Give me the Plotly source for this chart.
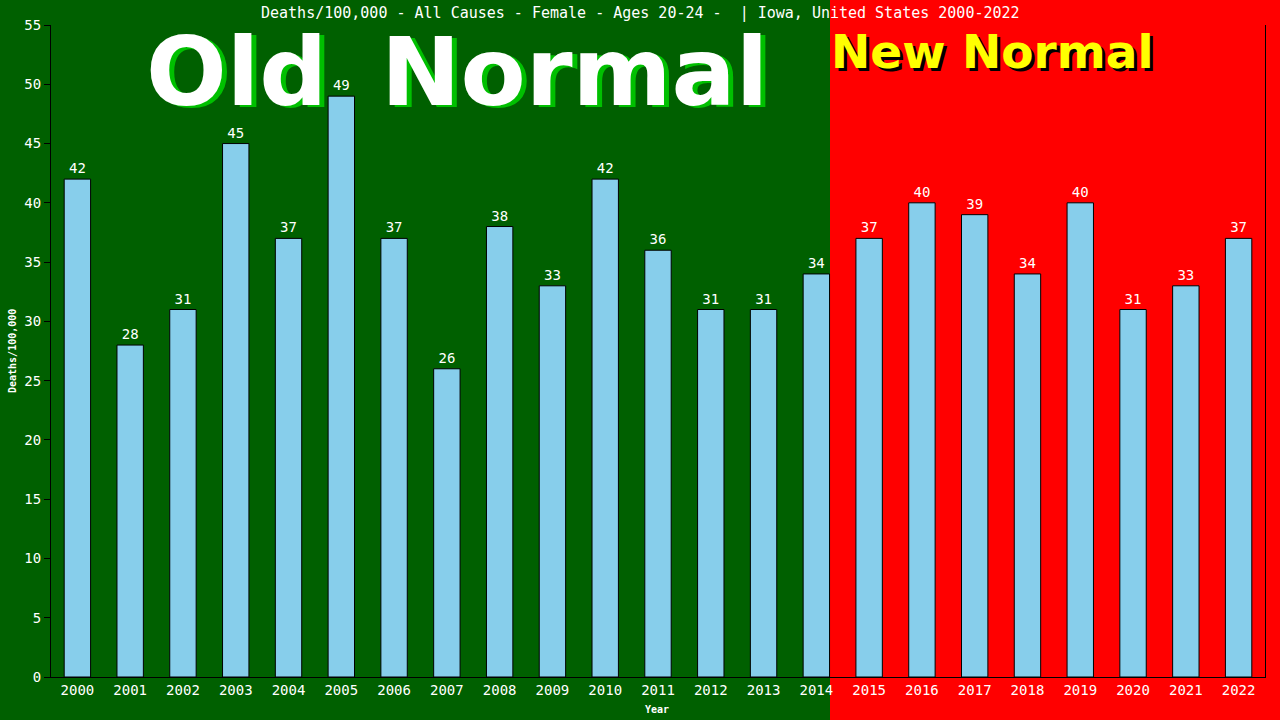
import plotly.graph_objects as go

years = [str(y) for y in range(2000, 2023)]
values = [42, 28, 31, 45, 37, 49, 37, 26, 38, 33, 42, 36, 31, 31, 34, 37, 40, 39, 34, 40, 31, 33, 37]
y_ticks = list(range(0, 56, 5))

title_text = "Deaths/100,000 - All Causes - Female - Ages 20-24 -  | Iowa, United States 2000-2022"

GREEN = "#006000"
RED = "#ff0000"
MONO = "DejaVu Sans Mono"

L, R, T, B = 51, 15, 25, 43
W, H = 1280, 720
pw, ph = W - L - R, H - T - B

def px(x):
    return (x - L) / pw

def py(y):
    return (H - B - y) / ph

x_idx = list(range(len(years)))

fig = go.Figure()
fig.add_trace(go.Bar(
    x=x_idx, y=values, width=0.5,
    marker=dict(color="#87CEEB", line=dict(color="black", width=1)),
    text=[str(v) for v in values], textposition="outside",
    textfont=dict(color="white", family=MONO, size=14),
    cliponaxis=False,
))

shapes = [
    dict(type="rect", xref="paper", yref="paper", x0=px(830), x1=px(1300),
         y0=py(740), y1=py(-20), fillcolor=RED, line=dict(width=0), layer="below"),
]

def big(text, cx, cy, size, color, shadow, dx, dy):
    return [
        dict(text=f"<b>{text}</b>", xref="paper", yref="paper", x=px(cx), y=py(cy),
             xanchor="center", yanchor="middle", showarrow=False, xshift=dx, yshift=dy,
             font=dict(family="DejaVu Sans", size=size, color=shadow)),
        dict(text=f"<b>{text}</b>", xref="paper", yref="paper", x=px(cx), y=py(cy),
             xanchor="center", yanchor="middle", showarrow=False,
             font=dict(family="DejaVu Sans", size=size, color=color)),
    ]

annotations = [
    dict(text=title_text, xref="paper", yref="paper", x=px(640), y=py(13),
         xanchor="center", yanchor="middle", showarrow=False,
         font=dict(family=MONO, size=15, color="white")),
]
annotations += big("Old", 236, 72, 95, "white", "#00c000", 5, -2)
annotations += big("Normal", 574, 72, 95, "white", "#00c000", 5, -2)
annotations += big("New Normal", 992, 52, 47, "yellow", "black", 3, -3)
annotations += [
    dict(text="<b>Deaths/100,000</b>", xref="paper", yref="paper", x=px(12), y=py(351),
         xanchor="center", yanchor="middle", showarrow=False, textangle=-90,
         font=dict(family=MONO, size=10, color="white")),
    dict(text="<b>Year</b>", xref="paper", yref="paper", x=px(657), y=py(709),
         xanchor="center", yanchor="middle", showarrow=False,
         font=dict(family=MONO, size=10, color="white")),
]

fig.update_layout(
    width=W, height=H,
    margin=dict(l=L, r=R, t=T, b=B, pad=0),
    paper_bgcolor=GREEN, plot_bgcolor="rgba(0,0,0,0)",
    showlegend=False,
    shapes=shapes, annotations=annotations,
    xaxis=dict(range=[-0.5, 22.5], tickvals=x_idx, ticktext=years,
               showgrid=False, zeroline=False, showline=True, linecolor="black", linewidth=1,
               ticks="", tickfont=dict(family=MONO, size=14, color="white"), fixedrange=True),
    yaxis=dict(range=[0, 55], tickvals=y_ticks, showgrid=False, zeroline=False,
               showline=True, linecolor="black", linewidth=1, mirror=True,
               ticks="outside", ticklen=6, tickcolor="black",
               tickfont=dict(family=MONO, size=14, color="white")),
)

fig.write_html("out.html", config={"displayModeBar": False},
               post_script="document.body.style.margin='0';document.body.style.overflow='hidden';")
